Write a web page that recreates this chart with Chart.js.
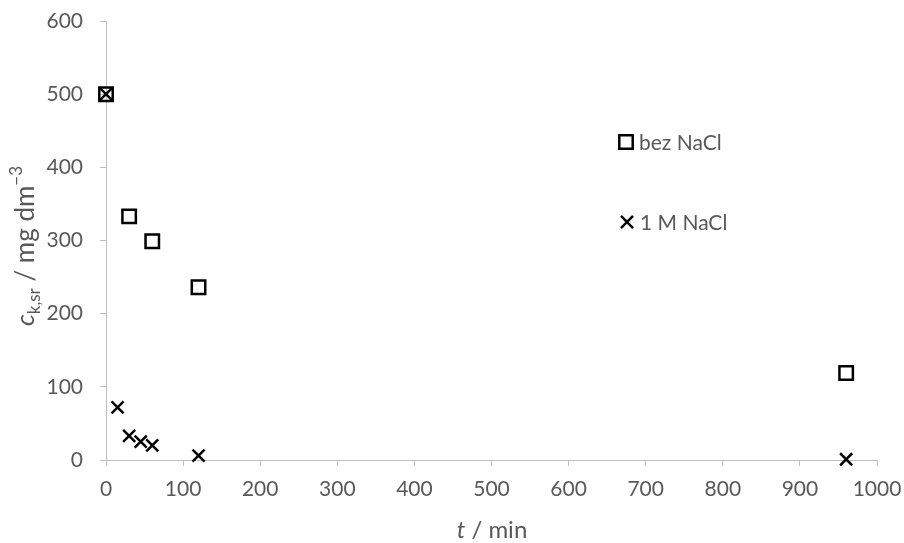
<!DOCTYPE html>
<html>
<head>
<meta charset="utf-8">
<script src="https://cdn.jsdelivr.net/npm/chart.js@4"></script>
<style>
  html, body { margin: 0; padding: 0; background: #fff; }
  #wrap { width: 904px; height: 543px; }
</style>
</head>
<body>
<div id="wrap"><canvas id="chart" width="904" height="543"></canvas></div>
<script>
// vrijeme (min) i koncentracije
const tBez = [0, 30, 60, 120, 960];
const cBez = [500, 333, 299, 236, 119];
const tNaCl = [0, 15, 30, 45, 60, 120, 960];
const cNaCl = [500, 72, 33, 25, 20, 6, 1];
const seriesNames = ['bez NaCl', '1 M NaCl'];
const xTicks = [0, 100, 200, 300, 400, 500, 600, 700, 800, 900, 1000];
const yTicks = [0, 100, 200, 300, 400, 500, 600];

const FONT = 'Lato, "Open Sans", sans-serif';
const TXT = '#595959';
const AXIS = '#bfbfbf';

function pts(xs, ys) {
    return xs.map((x, i) => ({ x: x, y: ys[i] }));
}

// legenda unutar grafa (kao u Excelu)
const legendPlugin = {
    id: 'insideLegend',
    afterDraw(chart) {
        const ctx = chart.ctx;
        const items = [[626, 142], [627, 222]];
        chart.data.datasets.forEach((ds, i) => {
            const [x, y] = items[i];
            ctx.save();
            ctx.fillStyle = 'rgba(0,0,0,0)';
            ctx.strokeStyle = ds.borderColor;
            ctx.lineWidth = ds.borderWidth;
            Chart.helpers.drawPoint(ctx, {
                pointStyle: ds.pointStyle,
                radius: ds.pointRadius,
                borderWidth: ds.borderWidth
            }, x, y);
            ctx.font = '21px ' + FONT;
            ctx.fillStyle = TXT;
            ctx.textBaseline = 'middle';
            ctx.fillText(seriesNames[i], x + 13, y + 1);
            ctx.restore();
        });
    }
};

// naslovi osi s kurzivom i indeksima
const axisTitles = {
    id: 'axisTitles',
    afterDraw(chart) {
        const ctx = chart.ctx;
        ctx.save();
        ctx.fillStyle = TXT;
        ctx.textBaseline = 'alphabetic';

        // x os
        drawParts(ctx, [
            { t: 't', f: 'italic 24px ' + FONT, dy: 0 },
            { t: ' / min', f: '24px ' + FONT, dy: 0 }
        ], 492, 538);

        // y os
        ctx.translate(34, 246);
        ctx.rotate(-Math.PI / 2);
        drawParts(ctx, [
            { t: 'c', f: 'italic 26px ' + FONT, dy: 0 },
            { t: 'k,sr', f: '17px ' + FONT, dy: 6 },
            { t: ' / mg dm', f: '26px ' + FONT, dy: 0 },
            { t: '\u22123', f: '17px ' + FONT, dy: -12 }
        ], 0, 0);
        ctx.restore();
    }
};

function drawParts(ctx, parts, cx, by) {
    let total = 0;
    parts.forEach(p => { ctx.font = p.f; p.w = ctx.measureText(p.t).width; total += p.w; });
    let x = cx - total / 2;
    parts.forEach(p => {
        ctx.font = p.f;
        ctx.fillText(p.t, x, by + p.dy);
        x += p.w;
    });
}

const data = {
    datasets: [
        {
            label: seriesNames[0],
            data: pts(tBez, cBez),
            pointStyle: 'rect',
            pointRadius: 9.5,
            borderWidth: 2.5,
            borderColor: '#000',
            backgroundColor: 'rgba(0,0,0,0)',
            showLine: false,
            clip: false
        },
        {
            label: seriesNames[1],
            data: pts(tNaCl, cNaCl),
            pointStyle: 'crossRot',
            pointRadius: 8.5,
            borderWidth: 2.5,
            borderColor: '#000',
            backgroundColor: 'rgba(0,0,0,0)',
            showLine: false,
            clip: false
        }
    ]
};

const config = {
    type: 'scatter',
    data: data,
    options: {
        responsive: false,
        animation: false,
        layout: { padding: { top: 21, right: 27, left: 0, bottom: 0 } },
        plugins: {
            legend: { display: false },
            tooltip: { enabled: false }
        },
        scales: {
            x: {
                type: 'linear',
                min: 0, max: 1000,
                afterBuildTicks(s) { s.ticks = xTicks.map(v => ({ value: v })); },
                afterFit(s) { s.height = 83; s.paddingLeft = 0; s.paddingRight = 0; },
                grid: { drawOnChartArea: false, drawTicks: true, tickLength: 6, color: AXIS },
                border: { color: AXIS, width: 1 },
                ticks: { color: TXT, font: { family: FONT, size: 21 }, padding: 11, maxRotation: 0, callback: v => String(v) }
            },
            y: {
                type: 'linear',
                min: 0, max: 600,
                afterBuildTicks(s) { s.ticks = yTicks.map(v => ({ value: v })); },
                afterFit(s) { s.width = 106; s.paddingTop = 0; s.paddingBottom = 0; },
                grid: { drawOnChartArea: false, drawTicks: true, tickLength: 6, color: AXIS },
                border: { color: AXIS, width: 1 },
                ticks: { color: TXT, font: { family: FONT, size: 21 }, padding: 17, callback: v => String(v) }
            }
        }
    },
    plugins: [legendPlugin, axisTitles]
};

window.onload = function() {
    const ctx = document.getElementById('chart').getContext('2d');
    new Chart(ctx, config);
};
</script>
</body>
</html>
